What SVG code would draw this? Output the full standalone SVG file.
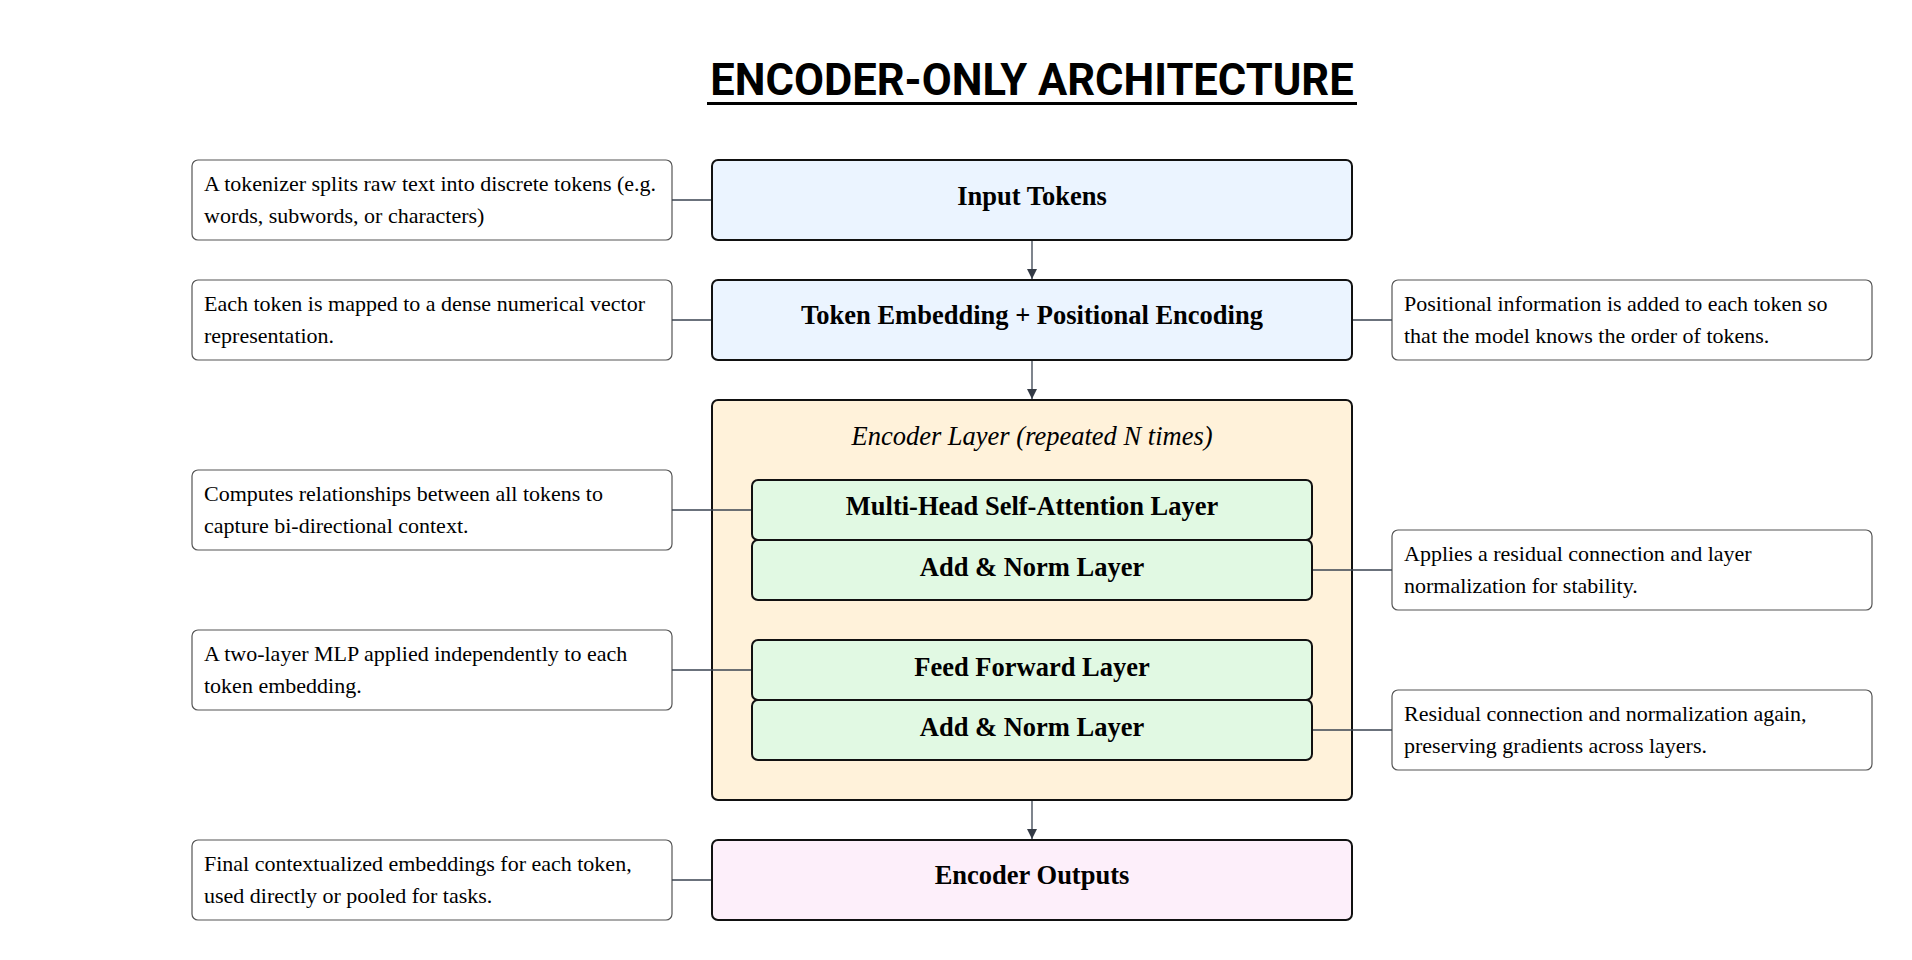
<svg xmlns="http://www.w3.org/2000/svg" width="1912" height="960" viewBox="0 0 1912 960">
<defs>
<marker id="arrow" viewBox="0 0 10 10" refX="10" refY="5" markerWidth="10" markerHeight="10" markerUnits="userSpaceOnUse" orient="auto">
<path d="M0,0 L10,5 L0,10 z" fill="#343b46"/>
</marker>
<style>
.title{font-family:Roboto,"Liberation Sans",sans-serif;font-weight:700;font-size:43.5px;fill:#000}
.main{stroke:#111;stroke-width:2;}
.blue{fill:#ebf4ff}
.enc{fill:#fff2da}
.green{fill:#e1f9e3}
.pink{fill:#fdeffa}
.note{fill:#fff;stroke:#555;stroke-width:1.2}
.lbl{font-family:"Liberation Serif",serif;font-weight:700;font-size:26.5px;fill:#000;text-anchor:middle}
.ital{font-family:"Liberation Serif",serif;font-style:italic;font-size:26.5px;fill:#000;text-anchor:middle}
.nt{font-family:"Liberation Serif",serif;font-size:22px;fill:#000}
.conn{stroke:#3a4350;stroke-width:1.3;fill:none}
</style>
</defs>
<rect width="1912" height="960" fill="#fff"/>
<g id="title">
<text class="title" x="1032" y="95" text-anchor="middle">ENCODER-ONLY ARCHITECTURE</text>
<rect x="707" y="102" width="650" height="3" fill="#000"/>
</g>
<g id="input-tokens">
<rect class="main blue" x="712" y="160" width="640" height="80" rx="6"/>
<text class="lbl" x="1032" y="205">Input Tokens</text>
</g>
<g id="token-embedding">
<rect class="main blue" x="712" y="280" width="640" height="80" rx="6"/>
<text class="lbl" x="1032" y="324">Token Embedding + Positional Encoding</text>
</g>
<g id="encoder-layer">
<rect class="main enc" x="712" y="400" width="640" height="400" rx="6"/>
<text class="ital" x="1032" y="445">Encoder Layer (repeated N times)</text>
</g>
<g id="mhsa">
<rect class="main green" x="752" y="480" width="560" height="60" rx="6"/>
<text class="lbl" x="1032" y="515">Multi-Head Self-Attention Layer</text>
</g>
<g id="addnorm1">
<rect class="main green" x="752" y="540" width="560" height="60" rx="6"/>
<text class="lbl" x="1032" y="576">Add &amp; Norm Layer</text>
</g>
<g id="ffn">
<rect class="main green" x="752" y="640" width="560" height="60" rx="6"/>
<text class="lbl" x="1032" y="676">Feed Forward Layer</text>
</g>
<g id="addnorm2">
<rect class="main green" x="752" y="700" width="560" height="60" rx="6"/>
<text class="lbl" x="1032" y="736">Add &amp; Norm Layer</text>
</g>
<g id="encoder-outputs">
<rect class="main pink" x="712" y="840" width="640" height="80" rx="6"/>
<text class="lbl" x="1032" y="884">Encoder Outputs</text>
</g>
<g id="note-input">
<rect class="note" x="192" y="160" width="480" height="80" rx="6"/>
<text class="nt" x="204" y="191">A tokenizer splits raw text into discrete tokens (e.g.</text>
<text class="nt" x="204" y="223">words, subwords, or characters)</text>
</g>
<g id="note-embedding">
<rect class="note" x="192" y="280" width="480" height="80" rx="6"/>
<text class="nt" x="204" y="311">Each token is mapped to a dense numerical vector</text>
<text class="nt" x="204" y="343">representation.</text>
</g>
<g id="note-positional">
<rect class="note" x="1392" y="280" width="480" height="80" rx="6"/>
<text class="nt" x="1404" y="311">Positional information is added to each token so</text>
<text class="nt" x="1404" y="343">that the model knows the order of tokens.</text>
</g>
<g id="note-mhsa">
<rect class="note" x="192" y="470" width="480" height="80" rx="6"/>
<text class="nt" x="204" y="501">Computes relationships between all tokens to</text>
<text class="nt" x="204" y="533">capture bi-directional context.</text>
</g>
<g id="note-addnorm1">
<rect class="note" x="1392" y="530" width="480" height="80" rx="6"/>
<text class="nt" x="1404" y="561">Applies a residual connection and layer</text>
<text class="nt" x="1404" y="593">normalization for stability.</text>
</g>
<g id="note-ffn">
<rect class="note" x="192" y="630" width="480" height="80" rx="6"/>
<text class="nt" x="204" y="661">A two-layer MLP applied independently to each</text>
<text class="nt" x="204" y="693">token embedding.</text>
</g>
<g id="note-addnorm2">
<rect class="note" x="1392" y="690" width="480" height="80" rx="6"/>
<text class="nt" x="1404" y="721">Residual connection and normalization again,</text>
<text class="nt" x="1404" y="753">preserving gradients across layers.</text>
</g>
<g id="note-outputs">
<rect class="note" x="192" y="840" width="480" height="80" rx="6"/>
<text class="nt" x="204" y="871">Final contextualized embeddings for each token,</text>
<text class="nt" x="204" y="903">used directly or pooled for tasks.</text>
</g>
<g id="connectors">
<line class="conn" x1="1032" y1="241" x2="1032" y2="279" marker-end="url(#arrow)"/>
<line class="conn" x1="1032" y1="361" x2="1032" y2="399" marker-end="url(#arrow)"/>
<line class="conn" x1="1032" y1="801" x2="1032" y2="839" marker-end="url(#arrow)"/>
<line class="conn" x1="672" y1="200" x2="711" y2="200"/>
<line class="conn" x1="672" y1="320" x2="711" y2="320"/>
<line class="conn" x1="1353" y1="320" x2="1392" y2="320"/>
<line class="conn" x1="672" y1="510" x2="751" y2="510"/>
<line class="conn" x1="1313" y1="570" x2="1392" y2="570"/>
<line class="conn" x1="672" y1="670" x2="751" y2="670"/>
<line class="conn" x1="1313" y1="730" x2="1392" y2="730"/>
<line class="conn" x1="672" y1="880" x2="711" y2="880"/>
</g>
</svg>
